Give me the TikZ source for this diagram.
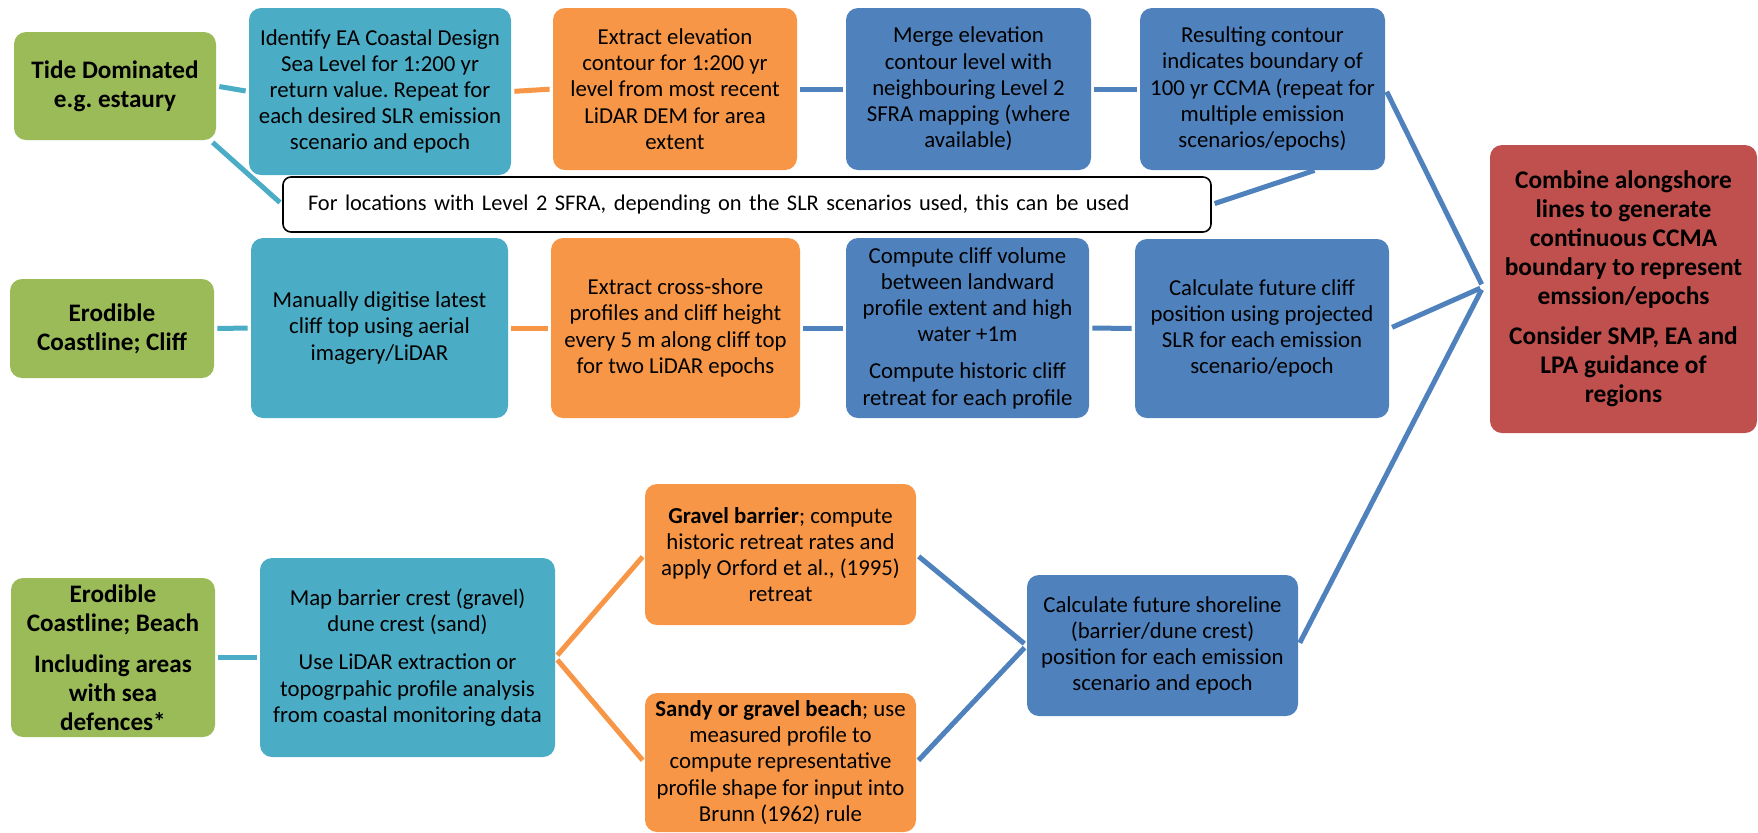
\documentclass[tikz,border=0pt]{standalone}
\usepackage{fontspec}
\setmainfont{Carlito}
\frenchspacing
\definecolor{leafgreen}{HTML}{9BBB59}
\definecolor{seateal}{HTML}{4BACC6}
\definecolor{sandorange}{HTML}{F79646}
\definecolor{stepblue}{HTML}{4F81BD}
\definecolor{resultred}{HTML}{C0504D}
\tikzset{
  box/.style={rounded corners=6pt, align=center, inner sep=0pt,
    font=\fontsize{11.4}{13.1}\selectfont},
  greenbox/.style={box, fill=leafgreen, font=\fontsize{12.6}{14.5}\selectfont\bfseries},
  tealbox/.style={box, fill=seateal},
  orangebox/.style={box, fill=sandorange},
  bluebox/.style={box, fill=stepblue},
  redbox/.style={box, fill=resultred, font=\fontsize{12.7}{14.4}\selectfont\bfseries},
  notebox/.style={draw=black, line width=0.8pt, fill=white, rounded corners=4pt,
    inner xsep=12.5pt, inner ysep=0pt, align=left, font=\fontsize{11.2}{13}\selectfont},
  link/.style={line width=2.5pt, shorten <=1.5pt, shorten >=1.5pt},
}
\begin{document}
\begin{tikzpicture}[x=0.5pt,y=-0.5pt]
  \useasboundingbox (0,0) rectangle (1758,832);
  \node[greenbox, minimum width=101pt, minimum height=54pt] (tide) at (115,86)
    {Tide Dominated\\e.g. estaury};
  \node[tealbox, minimum width=131pt, minimum height=83.5pt] (ident) at (380,91.5)
    {Identify EA Coastal Design\\Sea Level for 1:200 yr\\return value. Repeat for\\each desired SLR emission\\scenario and epoch};
  \node[orangebox, minimum width=122pt, minimum height=81pt] (extract) at (675,89)
    {Extract elevation\\contour for 1:200 yr\\level from most recent\\LiDAR DEM for area\\extent};
  \node[bluebox, minimum width=122.5pt, minimum height=81pt] (merge) at (968.5,89)
    {Merge elevation\\contour level with\\neighbouring Level 2\\SFRA mapping (where\\available)};
  \node[bluebox, minimum width=122.5pt, minimum height=81pt] (result) at (1262.5,89)
    {Resulting contour\\indicates boundary of\\100 yr CCMA (repeat for\\multiple emission\\scenarios/epochs)};
  \node[notebox, text width=439pt, minimum height=27.5pt] (note) at (747,204.5)
    {For locations with Level 2 SFRA, depending on the SLR scenarios used, this can be used};
  \node[redbox, minimum width=133.5pt, minimum height=144pt] (combine) at (1623.5,289)
    {Combine alongshore\\lines to generate\\continuous CCMA\\boundary to represent\\emssion/epochs\\[6pt]Consider SMP, EA and\\LPA guidance of\\regions};
  \node[greenbox, minimum width=102pt, minimum height=49.5pt] (cliff) at (112,328.5)
    {Erodible\\Coastline; Cliff};
  \node[tealbox, minimum width=128.5pt, minimum height=90pt] (digitise) at (379.5,328)
    {Manually digitise latest\\cliff top using aerial\\imagery/LiDAR};
  \node[orangebox, minimum width=124.5pt, minimum height=90pt] (profiles) at (675.5,328)
    {Extract cross-shore\\profiles and cliff height\\every 5 m along cliff top\\for two LiDAR epochs};
  \node[bluebox, minimum width=121.5pt, minimum height=90pt] (volume) at (967.5,328)
    {Compute cliff volume\\between landward\\profile extent and high\\water +1m\\[5.5pt]Compute historic cliff\\retreat for each profile};
  \node[bluebox, minimum width=127pt, minimum height=89.5pt] (cliffpos) at (1262,328.5)
    {Calculate future cliff\\position using projected\\SLR for each emission\\scenario/epoch};
  \node[greenbox, minimum width=102pt, minimum height=79.5pt] (beach) at (113,657.5)
    {Erodible\\Coastline; Beach\\[6pt]Including areas\\with sea\\defences*};
  \node[tealbox, minimum width=147.5pt, minimum height=99.5pt] (crest) at (407.5,657.5)
    {Map barrier crest (gravel)\\dune crest (sand)\\[6pt]Use LiDAR extraction or\\topogrpahic profile analysis\\from coastal monitoring data};
  \node[orangebox, minimum width=135.5pt, minimum height=70.5pt] (gravel) at (780.5,554.5)
    {\textbf{Gravel barrier}; compute\\historic retreat rates and\\apply Orford et al., (1995)\\retreat};
  \node[orangebox, minimum width=135.5pt, minimum height=69.5pt] (sandy) at (780.5,762.5)
    {\textbf{Sandy or gravel beach}; use\\measured profile to\\compute representative\\profile shape for input into\\Brunn (1962) rule};
  \node[bluebox, minimum width=135.5pt, minimum height=70.5pt] (shore) at (1162.5,645.5)
    {Calculate future shoreline\\(barrier/dune crest)\\position for each emission\\scenario and epoch};
  \coordinate (hub) at (1483,287);
  \begin{scope}[link]
    \draw[seateal] (tide.east) to (ident.west);
    \draw[seateal] ([xshift=-3pt]tide.south east) to (note.west);
    \draw[sandorange] (ident.east) to (extract.west);
    \draw[stepblue] (extract.east) to (merge.west);
    \draw[stepblue] (merge.east) to (result.west);
    \draw[stepblue, shorten <=0pt] ([xshift=26pt]result.south) to (note.east);
    \draw[stepblue] (result.east) to (hub);
    \draw[seateal] (cliff.east) to (digitise.west);
    \draw[sandorange] (digitise.east) to (profiles.west);
    \draw[stepblue] (profiles.east) to (volume.west);
    \draw[stepblue] (volume.east) to (cliffpos.west);
    \draw[stepblue] (cliffpos.east) to (hub);
    \draw[seateal] (beach.east) to (crest.west);
    \draw[sandorange] (crest.east) to (gravel.west);
    \draw[sandorange] (crest.east) to (sandy.west);
    \draw[stepblue] (gravel.east) to (shore.west);
    \draw[stepblue] (sandy.east) to (shore.west);
    \draw[stepblue] (shore.east) to (hub);
  \end{scope}
\end{tikzpicture}
\end{document}
